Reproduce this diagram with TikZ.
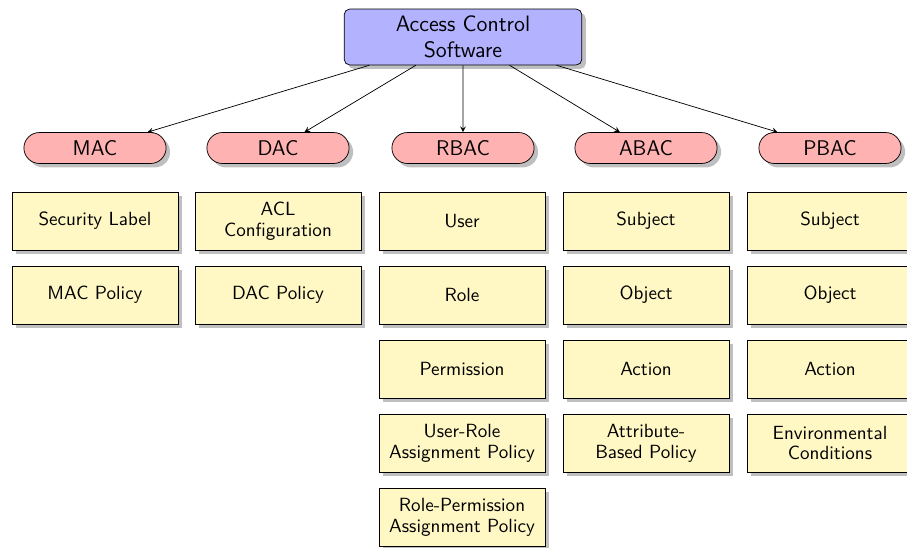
\documentclass[tikz,border=0pt]{standalone}
\usetikzlibrary{shadows,shapes.misc,arrows}
\renewcommand{\familydefault}{\sfdefault}
\definecolor{leafyellow}{RGB}{255,248,196}
\tikzset{
  topbox/.style={draw, rounded corners=3pt, fill=blue!30, drop shadow, align=center,
    minimum width=132pt, minimum height=31pt, font=\fontsize{12.4}{14.2}\selectfont, inner sep=2pt},
  catbox/.style={draw, rounded rectangle, fill=red!30, drop shadow,
    minimum width=81pt, minimum height=17.2pt, font=\fontsize{11.8}{13}\selectfont, inner sep=1pt},
  leafbox/.style={draw, fill=leafyellow, drop shadow, align=center,
    minimum width=92.2pt, minimum height=32.2pt, font=\fontsize{10.6}{11.6}\selectfont, inner sep=1pt},
  conn/.style={-stealth}
}
\begin{document}
\begin{tikzpicture}[x=0.5556pt, y=-0.5556pt]
\useasboundingbox (0,0) rectangle (907,547);
\node[topbox] (top) at (463,37) {Access Control\\Software};
\node[catbox] (mac) at (95,148) {MAC};
\node[catbox] (dac) at (278,148) {DAC};
\node[catbox] (rbac) at (463,148) {RBAC};
\node[catbox] (abac) at (646,148) {ABAC};
\node[catbox] (pbac) at (830,148) {PBAC};
\foreach \t in {mac,dac,rbac,abac,pbac} \draw[conn] (top) -- (\t);
% MAC
\node[leafbox] (mac1) at (95,221) {Security Label};
\node[leafbox] (mac2) at (95,295) {MAC Policy};
% DAC
\node[leafbox] (dac1) at (278,221) {ACL\\Configuration};
\node[leafbox] (dac2) at (278,295) {DAC Policy};
% RBAC
\node[leafbox] (rbac1) at (462,221) {User};
\node[leafbox] (rbac2) at (462,295) {Role};
\node[leafbox] (rbac3) at (462,369) {Permission};
\node[leafbox] (rbac4) at (462,443) {User-Role\\Assignment Policy};
\node[leafbox] (rbac5) at (462,517) {Role-Permission\\Assignment Policy};
% ABAC
\node[leafbox] (abac1) at (646,221) {Subject};
\node[leafbox] (abac2) at (646,295) {Object};
\node[leafbox] (abac3) at (646,369) {Action};
\node[leafbox] (abac4) at (646,443) {Attribute-\\Based Policy};
% PBAC
\node[leafbox] (pbac1) at (830,221) {Subject};
\node[leafbox] (pbac2) at (830,295) {Object};
\node[leafbox] (pbac3) at (830,369) {Action};
\node[leafbox] (pbac4) at (830,443) {Environmental\\Conditions};
\end{tikzpicture}
\end{document}
